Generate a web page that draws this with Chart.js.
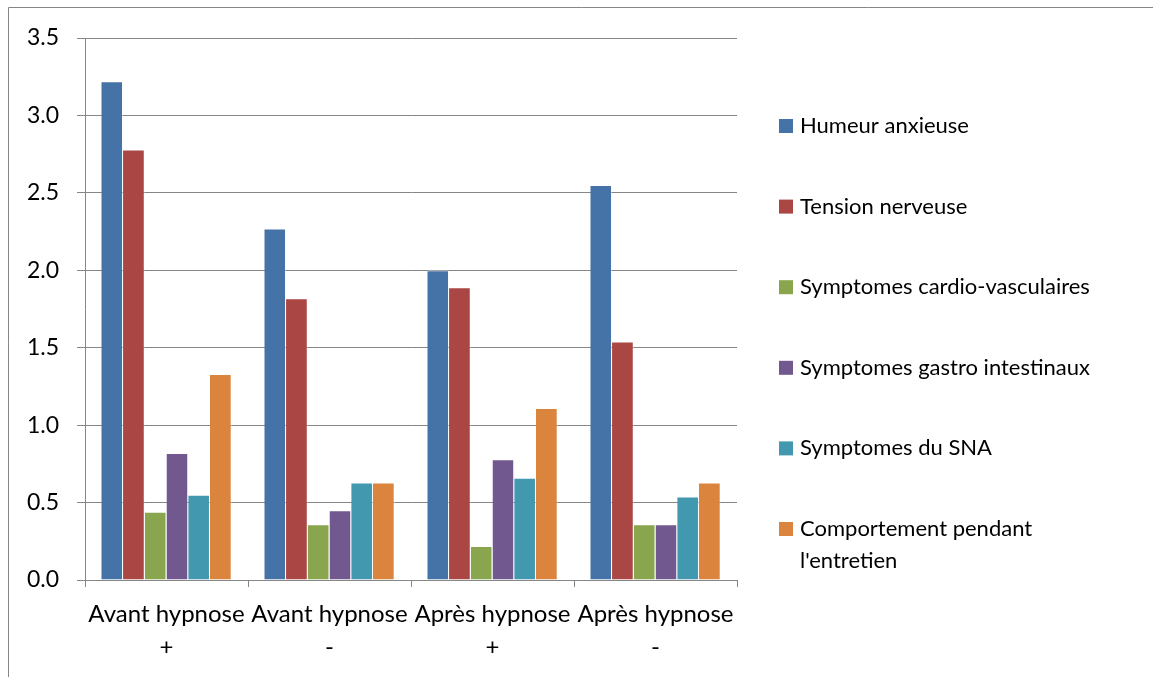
<!DOCTYPE html>
<html>
<head>
<meta charset="utf-8">
<script src="https://cdn.jsdelivr.net/npm/chart.js@4/dist/chart.umd.min.js"></script>
<style>
  html, body { margin: 0; padding: 0; background: #fff; }
  #wrap { position: relative; width: 1153px; height: 677px; }
</style>
</head>
<body>
<div id="wrap"><canvas id="c" width="1153" height="677"></canvas></div>
<script>
const categories = [["Avant hypnose", "+"], ["Avant hypnose", "-"], ["Après hypnose", "+"], ["Après hypnose", "-"]];
const seriesNames = ["Humeur anxieuse", "Tension nerveuse", "Symptomes cardio-vasculaires", "Symptomes gastro intestinaux", "Symptomes du SNA", "Comportement pendant l'entretien"];
const humeurAnxieuse = [3.22, 2.27, 2.00, 2.55];
const tensionNerveuse = [2.78, 1.82, 1.89, 1.54];
const cardioVasculaires = [0.44, 0.36, 0.22, 0.36];
const gastroIntestinaux = [0.82, 0.45, 0.78, 0.36];
const sna = [0.55, 0.63, 0.66, 0.54];
const comportement = [1.33, 0.63, 1.11, 0.63];
const yTicks = [0, 0.5, 1.0, 1.5, 2.0, 2.5, 3.0, 3.5];

const seriesValues = [humeurAnxieuse, tensionNerveuse, cardioVasculaires, gastroIntestinaux, sna, comportement];
const colors = ["#4572A7", "#AA4643", "#89A54E", "#71588F", "#4198AF", "#DB843D"];
const FONT = "Lato, 'Open Sans', sans-serif";

const frame = {
  id: 'frame',
  beforeDraw(chart) {
    const ctx = chart.ctx;
    ctx.save();
    ctx.fillStyle = '#fff';
    ctx.fillRect(0, 0, chart.width, chart.height);
    ctx.strokeStyle = '#868686';
    ctx.lineWidth = 1;
    ctx.beginPath();
    ctx.moveTo(8.5, chart.height + 2);
    ctx.lineTo(8.5, 7.5);
    ctx.lineTo(chart.width + 2, 7.5);
    ctx.stroke();
    ctx.restore();
  }
};

const sideLegend = {
  id: 'sideLegend',
  afterDraw(chart) {
    const ctx = chart.ctx;
    const area = chart.chartArea;
    const x0 = area.right + 42;
    const textX = x0 + 21;
    const maxW = 325;
    const firstY = 126;
    const step = 80.6;
    ctx.save();
    ctx.font = "22px " + FONT;
    ctx.textBaseline = 'middle';
    ctx.fillStyle = '#000';
    chart.data.datasets.forEach((ds, i) => {
      const cy = firstY + i * step;
      ctx.fillStyle = ds.backgroundColor;
      ctx.fillRect(x0, cy - 7, 14, 14);
      ctx.fillStyle = '#000';
      const words = ds.label.split(' ');
      const lines = [];
      let cur = '';
      words.forEach(w => {
        const t = cur ? cur + ' ' + w : w;
        if (ctx.measureText(t).width > maxW && cur) { lines.push(cur); cur = w; }
        else cur = t;
      });
      if (cur) lines.push(cur);
      lines.forEach((ln, k) => ctx.fillText(ln, textX, cy + k * 32));
    });
    ctx.restore();
  }
};

new Chart(document.getElementById('c'), {
  type: 'bar',
  data: {
    labels: categories,
    datasets: seriesNames.map((n, i) => ({
      label: n,
      data: seriesValues[i],
      backgroundColor: colors[i],
      borderColor: 'rgba(255,255,255,0.45)',
      borderWidth: { top: 1, right: 1, left: 0, bottom: 0 },
      borderSkipped: false,
      categoryPercentage: 0.8,
      barPercentage: 1.0
    }))
  },
  options: {
    responsive: false,
    animation: false,
    devicePixelRatio: 1,
    layout: { padding: { left: 0, right: 416, top: 38, bottom: 0 } },
    plugins: { legend: { display: false }, tooltip: { enabled: false } },
    scales: {
      x: {
        afterFit(s) { s.height = 97; },
        grid: { drawOnChartArea: false, drawTicks: true, tickLength: 7, offset: true, color: '#868686', lineWidth: 1 },
        border: { display: true, color: '#868686', width: 1 },
        ticks: { color: '#000', font: { family: FONT, size: 24, lineHeight: 1.375 }, padding: 11, maxRotation: 0, autoSkip: false }
      },
      y: {
        min: 0, max: 3.5,
        afterFit(s) { s.width = 85; },
        afterBuildTicks(s) { s.ticks = yTicks.map(v => ({ value: v })); },
        grid: { color: '#868686', lineWidth: 1, tickLength: 8, drawTicks: true },
        border: { display: true, color: '#868686', width: 1 },
        ticks: { color: '#000', font: { family: FONT, size: 23 }, padding: 18, callback: v => Number(v).toFixed(1) }
      }
    }
  },
  plugins: [frame, sideLegend]
});
</script>
</body>
</html>
